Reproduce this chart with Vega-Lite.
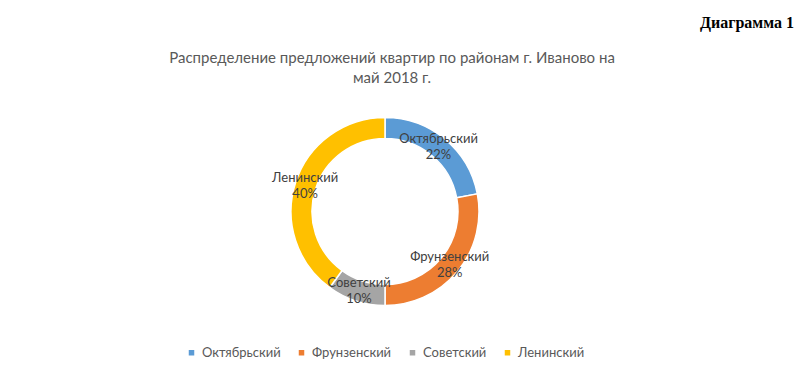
{
  "$schema": "https://vega.github.io/schema/vega-lite/v6.json",
  "background": "white",
  "padding": {"left": 0, "top": 15, "right": 0, "bottom": 0},
  "title": {"text": "Диаграмма 1", "anchor": "end", "frame": "group", "dx": 24, "font": "Liberation Serif", "fontSize": 16, "fontWeight": "bold", "color": "#000000", "offset": 20},
  "vconcat": [
    {
      "width": 770,
      "height": 201,
      "title": {"text": ["Распределение предложений квартир по районам г. Иваново на", "май 2018 г."], "anchor": "middle", "dx": 7, "font": "Lato", "fontSize": 15, "fontWeight": "normal", "color": "#595959", "lineHeight": 20, "offset": 25},
      "data": {"values": [
        {"district": "Октябрьский", "share": 0.22, "n": 1},
        {"district": "Фрунзенский", "share": 0.28, "n": 2},
        {"district": "Советский", "share": 0.10, "n": 3},
        {"district": "Ленинский", "share": 0.40, "n": 4}
      ]},
      "encoding": {
        "theta": {"field": "share", "type": "quantitative", "stack": true},
        "order": {"field": "n", "type": "quantitative"},
        "color": {"field": "district", "type": "nominal",
          "scale": {"domain": ["Октябрьский", "Фрунзенский", "Советский", "Ленинский"], "range": ["#5B9BD5", "#ED7D31", "#A5A5A5", "#FFC000"]},
          "legend": {"title": null, "orient": "bottom", "direction": "horizontal", "symbolType": "square", "symbolSize": 49, "labelFont": "Lato", "labelFontSize": 13, "labelColor": "#595959", "columnPadding": 14, "offset": 34, "labelOffset": 4}}
      },
      "layer": [
        {"mark": {"type": "arc", "outerRadius": 94, "innerRadius": 73, "stroke": "white", "strokeWidth": 1.5}},
        {"mark": {"type": "text", "radius": 84, "dy": -8, "font": "Lato", "fontSize": 13, "fill": "#404040"},
         "encoding": {"text": {"field": "district"}, "color": {"value": "#404040"}}},
        {"mark": {"type": "text", "radius": 84, "dy": 8, "font": "Lato", "fontSize": 13, "fill": "#404040"},
         "encoding": {"text": {"field": "share", "format": ".0%"}, "color": {"value": "#404040"}}}
      ]
    }
  ],
  "config": {"view": {"stroke": null}, "legend": {"layout": {"bottom": {"anchor": "middle"}}}}
}
